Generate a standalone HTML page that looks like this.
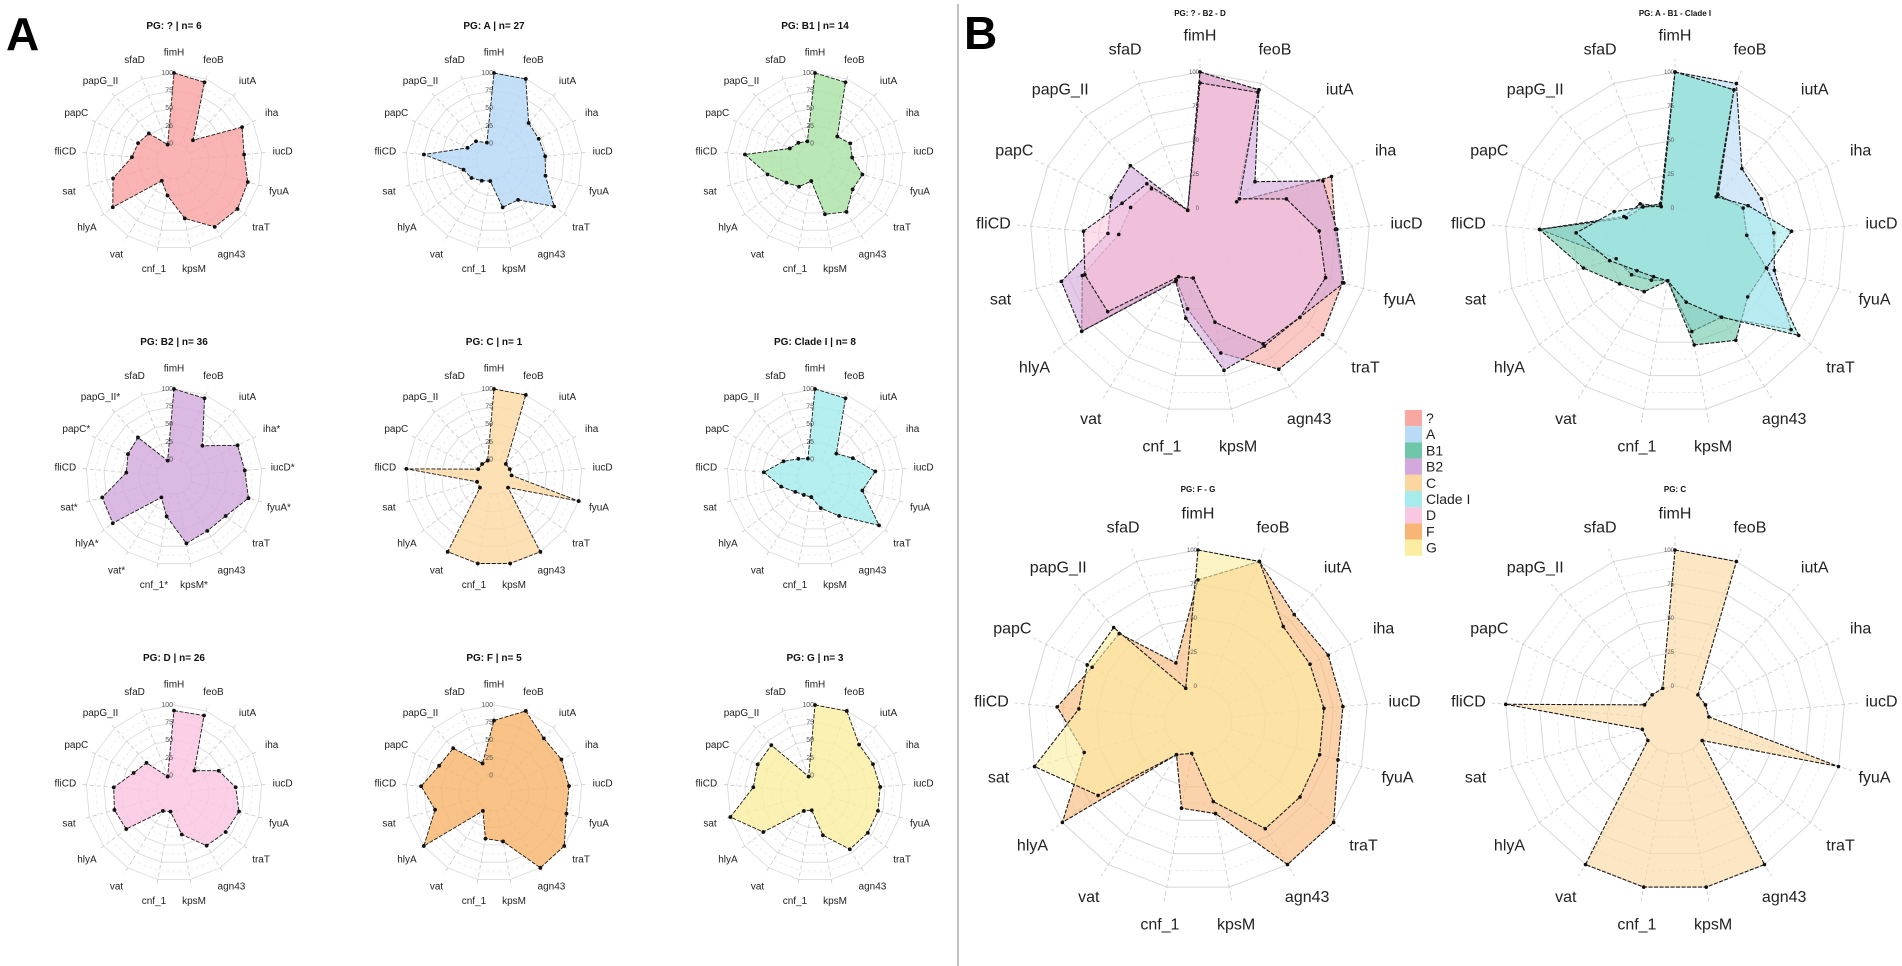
<!DOCTYPE html>
<html><head><meta charset="utf-8">
<style>
html,body{margin:0;padding:0;background:#fff;}
svg{display:block;font-family:"Liberation Sans",sans-serif;}
</style></head>
<body>
<svg id="fig" width="1902" height="966" viewBox="0 0 1902 966" xmlns="http://www.w3.org/2000/svg">
<rect x="0" y="0" width="1902" height="966" fill="#fff"/>
<text x="6" y="50" font-size="46" font-weight="bold">A</text>
<text x="964" y="49" font-size="46" font-weight="bold">B</text>
<line x1="958" y1="4" x2="958" y2="966" stroke="#9a9a9a" stroke-width="1.2"/>
</svg>
<script>
const genes = ["fimH","feoB","iutA","iha","iucD","fyuA","traT","agn43","kpsM","cnf_1","vat","hlyA","sat","fliCD","papC","papG_II","sfaD"];
const groupNames = ["?","A","B1","B2","C","Clade I","D","F","G"];
const vQ  = [100,95,15,83,75,84,88,85,58,25,8,84,65,35,32,28,0];
const vA  = [100,100,48,46,48,51,82,40,42,4,8,15,20,75,17,13,3];
const vB1 = [100,95,22,31,28,45,42,60,52,4,18,26,45,75,15,10,5];
const vB2 = [100,95,35,76,76,85,67,65,71,32,9,84,81,43,48,51,0];
const vC  = [100,100,0,0,0,100,0,100,100,100,100,0,0,100,0,0,0];
const vCladeI = [100,95,20,35,61,45,89,40,20,4,5,10,25,48,25,10,3];
const vD  = [92,93,18,46,63,71,67,63,35,2,5,60,63,61,39,33,0];
const vF  = [78,100,80,82,82,82,100,100,45,41,5,100,62,79,62,61,20];
const vG  = [100,100,68,67,68,68,69,69,36,0,5,67,100,63,66,67,0];
const groupCounts = [6,27,14,36,1,8,26,5,3];
const tickLabels = ["0","25","50","75","100"];
const tickValues = [0,25,50,75,100];

const NS="http://www.w3.org/2000/svg";
const svg=document.getElementById('fig');
const seriesVals={"?":vQ,"A":vA,"B1":vB1,"B2":vB2,"C":vC,"Clade I":vCladeI,"D":vD,"F":vF,"G":vG};
const paleCol={"?":"#f9a3a3","A":"#b6d8f7","B1":"#a9e2a6","B2":"#d2a9dc","C":"#fcd9a2","Clade I":"#a6ecec","D":"#fac6e2","F":"#f8b46c","G":"#faeea2"};
const legCol={"?":"#f8a8a0","A":"#b8dcf5","B1":"#6fc6a9","B2":"#d3a8dc","C":"#fcd6a0","Clade I":"#a6ecec","D":"#f9c8e0","F":"#f8b676","G":"#fbeea2"};
const slug=s=>s.replace('?','unknown').replace(' ','-').toLowerCase();

function mk(tag,attrs,parent){const e=document.createElementNS(NS,tag);for(const k in attrs)e.setAttribute(k,attrs[k]);(parent||svg).appendChild(e);return e;}
function ang(i){return i*2*Math.PI/genes.length;}
function rad(v,R){return R*(0.2+0.8*v/100);}
function pt(cx,cy,r,i){return [cx+r*Math.sin(ang(i)),cy-r*Math.cos(ang(i))];}

function radar(cx,cy,R,title,groups,opts){
  const g=mk('g',{});
  
  
  tickValues.forEach((tv,k)=>{
    const r=rad(tv,R);
    const ps=genes.map((_,i)=>pt(cx,cy,r,i).join(',')).join(' ');
    const ring=mk('polygon',{points:ps,fill:'none',stroke:'#d8d8d8','stroke-width':opts.big?1:0.8},g);
    
    
    if(k>0&&k<4){
      const rr=rad(tv+12.5,R);
      const ps2=genes.map((_,i)=>pt(cx,cy,rr,i).join(',')).join(' ');
      const ring2=mk('polygon',{points:ps2,fill:'none',stroke:'#e4e4e4','stroke-width':0.7,'stroke-dasharray':'3,3'},g);
      
      
    }
  });
  genes.forEach((gn,i)=>{
    const a=pt(cx,cy,rad(0,R),i),b=pt(cx,cy,R*1.08,i);
    const sp=mk('line',{x1:a[0],y1:a[1],x2:b[0],y2:b[1],stroke:'#c8c8c8','stroke-width':0.8,'stroke-dasharray':'4,3'},g);
    
    
  });
  groups.forEach(gr=>{
    const vals=seriesVals[gr];
    const ps=vals.map((v,i)=>pt(cx,cy,rad(v,R),i).join(',')).join(' ');
    const poly=mk('polygon',{points:ps,fill:opts.big?legCol[gr]:paleCol[gr],'fill-opacity':opts.big?0.62:0.82,stroke:'#1a1a1a','stroke-width':opts.big?1.1:0.9,'stroke-dasharray':'4,1.5'},g);
    
    
  });
  groups.forEach(gr=>{
    seriesVals[gr].forEach((v,i)=>{
      const p=pt(cx,cy,rad(v,R),i);
      const c=mk('circle',{cx:p[0],cy:p[1],r:opts.big?1.8:1.9,fill:'#111'},g);
      
      
    });
  });
  tickValues.forEach((tv,k)=>{
    const r=rad(tv,R);
    const t=mk('text',{x:cx-1,y:cy-r+2,'font-size':opts.big?6:7,'text-anchor':'end',fill:'#555'},g);
    t.textContent=tickLabels[k];
    
    
  });
  genes.forEach((gn,i)=>{
    const p=pt(cx,cy,R*opts.lr,i);
    const t=mk('text',{x:p[0],y:p[1]+opts.fs*0.36,'font-size':opts.fs,'text-anchor':'middle',fill:'#222'},g);
    t.textContent=gn+(opts.star&&opts.star.includes(gn)?'*':'');
    
    
  });
  const tt=mk('text',{x:cx,y:cy-opts.ty,'font-size':opts.tfs,'font-weight':'bold','text-anchor':'middle',fill:'#111'},g);
  tt.textContent=title;
  
  
}

const colX=[174,494,815], rowY=[161,477,793];
const b2stars=["papG_II","papC","iha","iucD","fyuA","sat","hlyA","vat","cnf_1","kpsM"];
groupNames.forEach((gr,k)=>{
  const cx=colX[k%3], cy=rowY[Math.floor(k/3)];
  radar(cx,cy,88,'PG: '+gr+' | n= '+groupCounts[k],[gr],{id:'a-'+slug(gr),lr:1.24,fs:10,tfs:10,ty:132,star:gr==='B2'?b2stars:null});
});
radar(1200,242,170,'PG: ? - B2 - D',['?','B2','D'],{id:'b-unknown-b2-d',big:true,lr:1.22,fs:16,tfs:8,ty:226});
radar(1675,242,170,'PG: A - B1 - Clade I',['A','B1','Clade I'],{id:'b-a-b1-cladei',big:true,lr:1.22,fs:16,tfs:8,ty:226});
radar(1198,720,170,'PG: F - G',['F','G'],{id:'b-f-g',big:true,lr:1.22,fs:16,tfs:8,ty:228});
radar(1675,720,170,'PG: C',['C'],{id:'b-c',big:true,lr:1.22,fs:16,tfs:8,ty:228});

const lg=mk('g',{});


groupNames.forEach((gr,k)=>{
  const y=410+k*16.2;
  const r=mk('rect',{x:1405,y:y,width:17,height:16.2,fill:legCol[gr]},lg);
  
  
  const t=mk('text',{x:1426,y:y+13,'font-size':14,fill:'#222'},lg);
  t.textContent=gr;
  
  
});
</script>
</body></html>
